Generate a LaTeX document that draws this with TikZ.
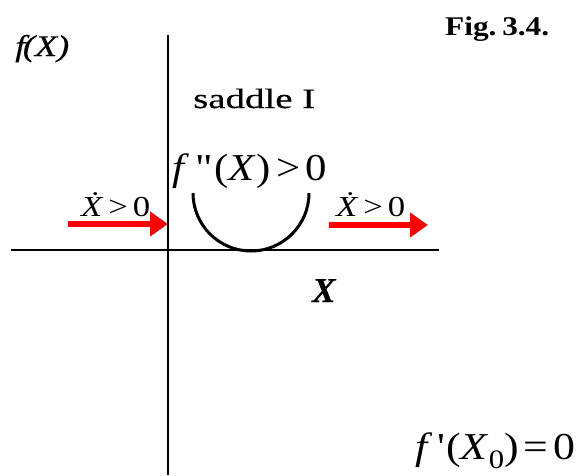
\documentclass[tikz,border=0pt]{standalone}
\usepackage{fontspec}
\usepackage{graphicx}
\setmainfont{Liberation Serif}
\newfontface\scan{Liberation Serif}[FakeBold=0.4]
\newfontface\scanit{Liberation Serif Italic}[FakeBold=0.4]
\newfontface\scanbi{Liberation Serif Bold Italic}[FakeBold=0.5]
\usetikzlibrary{arrows.meta}
\tikzset{
  axis/.style={line width=2.6pt, black},
  curve/.style={line width=3pt, black},
  flow/.style={line width=6.5pt, red, -{Triangle[length=18pt,width=24pt]}},
  lbl/.style={inner sep=0pt, anchor=base west},
}
\newcommand{\wbox}[2]{\resizebox{#1}{\height}{#2}}
\begin{document}
\begin{tikzpicture}[x=1pt,y=1pt]
\useasboundingbox (0,0) rectangle (580,-475);
% axes
\coordinate (vtop) at (168,-35);
\coordinate (vbot) at (168,-475);
\coordinate (hl) at (11,-250);
\coordinate (hr) at (439,-250);
\draw[axis] (vtop) -- (vbot);
\draw[axis] (hl) -- (hr);
% curve
\coordinate (cl) at (193,-193);
\draw[curve] (cl) arc[start angle=180, end angle=360, radius=58];
% arrows
\coordinate (a1s) at (68,-224);
\coordinate (a1e) at (168,-224);
\coordinate (a2s) at (329,-225);
\coordinate (a2e) at (428,-225);
\draw[flow] (a1s) -- (a1e);
\draw[flow] (a2s) -- (a2e);
% labels
\node[lbl] (fx) at (15,-56) {\fontsize{30}{32}\selectfont\wbox{54pt}{\scanit f\kern-2pt(X)}};
\node[lbl] (fig) at (445,-35) {\fontsize{27}{30}\selectfont\wbox{104pt}{\textbf{Fig.\kern5pt3.4.}}};
\node[lbl] (saddle) at (193,-108) {\fontsize{28}{30}\selectfont\wbox{122pt}{\scan saddle I}};
\node[lbl] (fpp) at (172,-180) {\fontsize{38}{40}\selectfont\wbox{155pt}{\textit{f}\kern6pt\textquotedbl\kern1pt(\textit{X})\kern5pt>\kern5pt0}};
\node[lbl] (dl) at (81,-216) {\fontsize{29}{31}\selectfont\wbox{69pt}{\textit{\.{X}}\kern4pt>\kern4pt0}};
\node[lbl] (dr) at (336,-216) {\fontsize{29}{31}\selectfont\wbox{69pt}{\textit{\.{X}}\kern4pt>\kern4pt0}};
\node[lbl] (xl) at (312,-302) {\fontsize{35}{37}\selectfont\scanbi X};
\node[lbl] (fp) at (415,-459) {\fontsize{38}{40}\selectfont\wbox{160pt}{\textit{f}\kern4pt\textquotesingle\kern1pt(\textit{X}\textsubscript{0})\kern4pt=\kern4pt0}};
\end{tikzpicture}
\end{document}
